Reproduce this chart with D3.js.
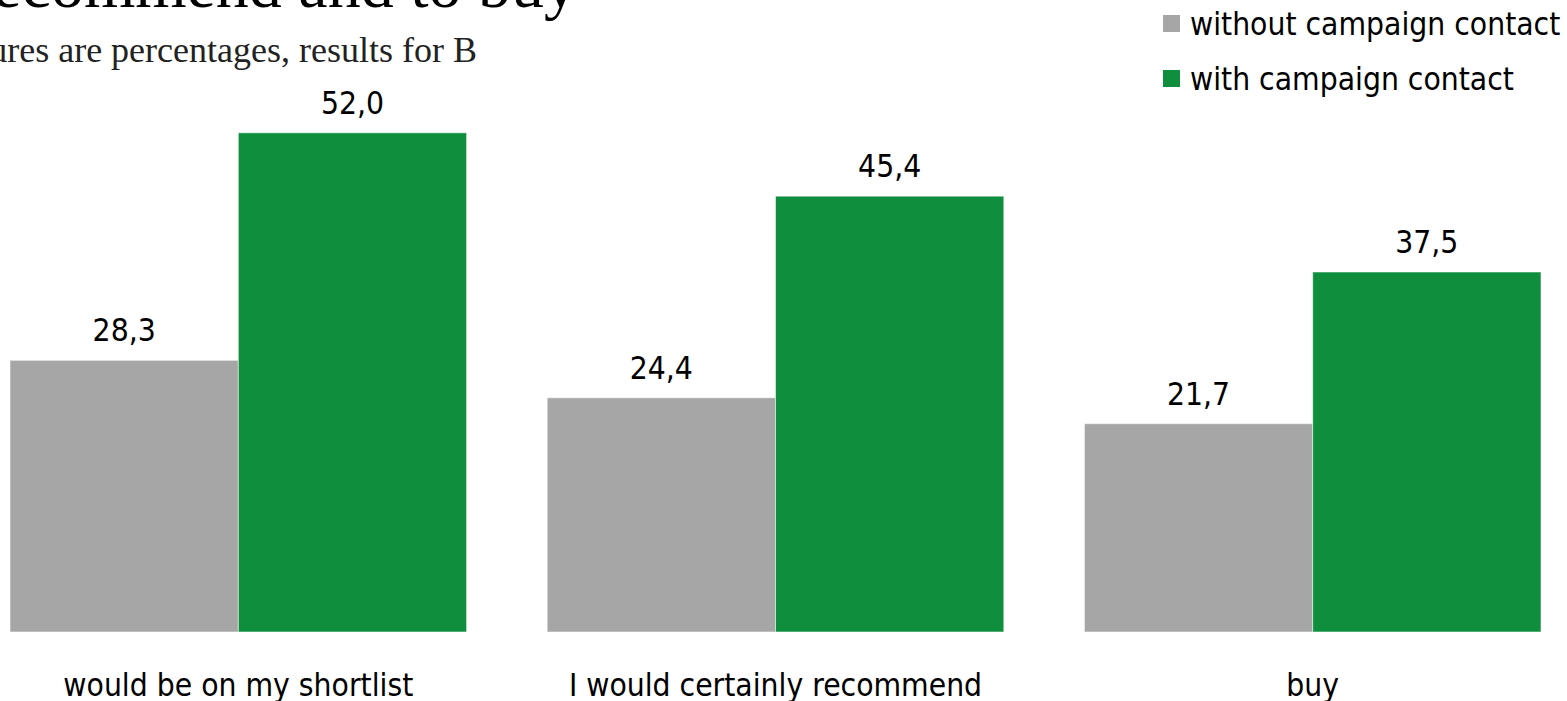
<!DOCTYPE html>
<html>
<head>
<meta charset="utf-8">
<script src="https://cdn.jsdelivr.net/npm/d3@7"></script>
<style>
  html, body { margin: 0; padding: 0; background: #fff; overflow: hidden; }
  svg { display: block; }
</style>
</head>
<body>
<svg id="chart" width="1567" height="701"></svg>
<script>
// Chart data
const categories = ["would be on my shortlist", "I would certainly recommend", "buy"];
const seriesNames = ["without campaign contact", "with campaign contact"];
const withoutContact = [28.3, 24.4, 21.7];
const withContact = [52.0, 45.4, 37.5];
const titleText = "Willingness to recommend and to buy";
const subtitleText = "Figures are percentages, results for B";

const colors = ["#A5A6A5", "#0F8F3D"];
const sans = "'DejaVu Sans Condensed', 'DejaVu Sans', Tahoma, sans-serif";
const serif = "'Liberation Serif', Garamond, serif";
const labelSize = "31.5px";

const svg = d3.select("#chart");

const baseY = 632;
const x0 = d3.scaleBand().domain(categories).range([10, 1541]).paddingInner(0.15).paddingOuter(0);
const x1 = d3.scaleBand().domain(seriesNames).range([0, x0.bandwidth()]).padding(0);
const y = d3.scaleLinear().domain([0, 60]).range([baseY, baseY - 60 * 9.6]);

const rows = categories.map((c, i) => ({
  cat: c,
  vals: [
    { s: seriesNames[0], v: withoutContact[i], c: colors[0] },
    { s: seriesNames[1], v: withContact[i], c: colors[1] }
  ]
}));

const fmt = v => d3.format(".1f")(v).replace(".", ",");

// Title and subtitle, right-aligned so their start runs off the left edge
svg.append("text")
  .attr("x", 577).attr("y", 7)
  .attr("text-anchor", "end")
  .style("font-family", serif).style("font-size", "66px").attr("fill", "#000")
  .text(titleText);

svg.append("text")
  .attr("x", 477).attr("y", 62)
  .attr("text-anchor", "end")
  .style("font-family", serif).style("font-size", "36px").attr("fill", "#222")
  .text(subtitleText);

// Bars
const g = svg.append("g");
const groups = g.selectAll("g.grp").data(rows).join("g")
  .attr("class", "grp")
  .attr("transform", d => `translate(${x0(d.cat)},0)`);

groups.selectAll("rect").data(d => d.vals).join("rect")
  .attr("x", d => x1(d.s))
  .attr("y", d => y(d.v))
  .attr("width", x1.bandwidth())
  .attr("height", d => baseY - y(d.v))
  .attr("fill", d => d.c)
  .attr("stroke", "rgba(255,255,255,0.55)")
  .attr("stroke-width", 1);

// Value labels above each bar
groups.selectAll("text.val").data(d => d.vals).join("text")
  .attr("class", "val")
  .attr("x", d => x1(d.s) + x1.bandwidth() / 2)
  .attr("y", d => y(d.v) - 19)
  .attr("text-anchor", "middle")
  .style("font-family", sans).style("font-size", labelSize).attr("fill", "#000")
  .text(d => fmt(d.v));

// Category axis labels
const xAxis = d3.axisBottom(x0).tickSize(0).tickPadding(0);
const ax = svg.append("g").attr("transform", `translate(0,${baseY})`).call(xAxis);
ax.select(".domain").remove();
ax.selectAll("text")
  .attr("y", 64).attr("dy", 0)
  .style("font-family", sans).style("font-size", labelSize).attr("fill", "#000");

// Legend
const leg = svg.append("g").attr("transform", "translate(1163,15)");
const li = leg.selectAll("g").data(seriesNames).join("g")
  .attr("transform", (d, i) => `translate(0,${i * 55})`);
li.append("rect").attr("width", 17).attr("height", 17).attr("fill", (d, i) => colors[i]);
li.append("text").attr("x", 27).attr("y", 20)
  .style("font-family", sans).style("font-size", labelSize).attr("fill", "#000")
  .text(d => d);
</script>
</body>
</html>
